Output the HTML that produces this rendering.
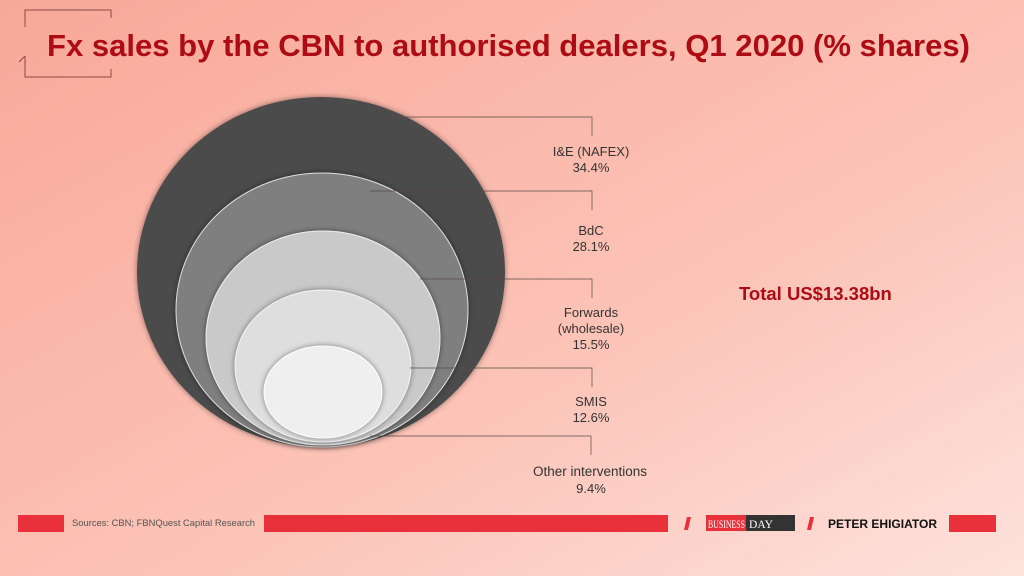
<!DOCTYPE html>
<html><head><style>
body{margin:0;width:1024px;height:576px;overflow:hidden;font-family:"Liberation Sans",sans-serif}
</style></head><body>
<svg width="1024" height="576" xmlns="http://www.w3.org/2000/svg">
<defs>
<linearGradient id="bg" x1="0" y1="0" x2="1" y2="1">
<stop offset="0" stop-color="#f8a898"/>
<stop offset="0.6" stop-color="#fcc4b8"/>
<stop offset="1" stop-color="#fde2dc"/>
</linearGradient>
<filter id="sh" x="-20%" y="-20%" width="140%" height="140%"><feDropShadow dx="0" dy="0" stdDeviation="3" flood-color="#000" flood-opacity="0.45"/></filter>
</defs>
<rect width="1024" height="576" fill="url(#bg)"/>
<path d="M25 27 V10 H111 V18" fill="none" stroke="#8a4a44" stroke-width="1"/>
<path d="M25 56 V77 H111 V69" fill="none" stroke="#8a4a44" stroke-width="1"/>
<path d="M25 56 L19 62" fill="none" stroke="#8a4a44" stroke-width="1"/>
<text x="47" y="56" font-size="31" font-weight="bold" fill="#ad0c14" textLength="923" lengthAdjust="spacingAndGlyphs">Fx sales by the CBN to authorised dealers, Q1 2020 (% shares)</text>

<ellipse cx="321" cy="272" rx="184" ry="175" fill="#4b4b4b" filter="url(#sh)"/>
<ellipse cx="322" cy="310" rx="146" ry="137" fill="#7f7f7f" stroke="#ddd" stroke-width="1" filter="url(#sh)"/>
<ellipse cx="323" cy="338" rx="117" ry="107" fill="#c9c9c9" stroke="#eee" stroke-width="1" filter="url(#sh)"/>
<ellipse cx="323" cy="366" rx="88" ry="76" fill="#dedede" stroke="#f4f4f4" stroke-width="1" filter="url(#sh)"/>
<ellipse cx="323" cy="392" rx="59" ry="46" fill="#efefef" stroke="#fff" stroke-width="1" filter="url(#sh)"/>

<g stroke="#5a4a48" stroke-width="0.7" fill="none">
<path d="M380 117 H592 V136"/>
<path d="M370 191 H592 V210"/>
<path d="M420 279 H592 V298"/>
<path d="M410 368 H592 V387"/>
<path d="M370 436 H591 V455"/>
</g>
<g font-size="13" fill="#333" text-anchor="middle">
<text x="591" y="156">I&amp;E (NAFEX)</text><text x="591" y="172">34.4%</text>
<text x="591" y="235">BdC</text><text x="591" y="251">28.1%</text>
<text x="591" y="317">Forwards</text><text x="591" y="333">(wholesale)</text><text x="591" y="349">15.5%</text>
<text x="591" y="406">SMIS</text><text x="591" y="422">12.6%</text>
<text x="590" y="476" font-size="13.5">Other interventions</text><text x="591" y="493">9.4%</text>
</g>
<text x="739" y="300" font-size="18.5" font-weight="bold" fill="#ad0c14">Total US$13.38bn</text>

<rect x="18" y="515" width="46" height="17" fill="#e8313a"/>
<text x="72" y="526" font-size="9" fill="#555" textLength="183" lengthAdjust="spacingAndGlyphs">Sources: CBN; FBNQuest Capital Research</text>
<rect x="264" y="515" width="404" height="17" fill="#e8313a"/>
<path d="M687 517 H691 L688 530 H684 Z" fill="#e8313a"/>
<rect x="706" y="515" width="40" height="16" fill="#e8313a"/>
<rect x="746" y="515" width="49" height="16" fill="#333"/>
<text x="708" y="528" font-size="12" fill="#fff" font-family="Liberation Serif" textLength="37" lengthAdjust="spacingAndGlyphs">BUSINESS</text>
<text x="749" y="528" font-size="12" fill="#fff" font-family="Liberation Serif" textLength="24" lengthAdjust="spacingAndGlyphs">DAY</text>
<path d="M810 517 H814 L811 530 H807 Z" fill="#e8313a"/>
<text x="828" y="528" font-size="12" font-weight="bold" fill="#111" textLength="109" lengthAdjust="spacingAndGlyphs">PETER EHIGIATOR</text>
<rect x="949" y="515" width="47" height="17" fill="#e8313a"/>
</svg>
</body></html>
